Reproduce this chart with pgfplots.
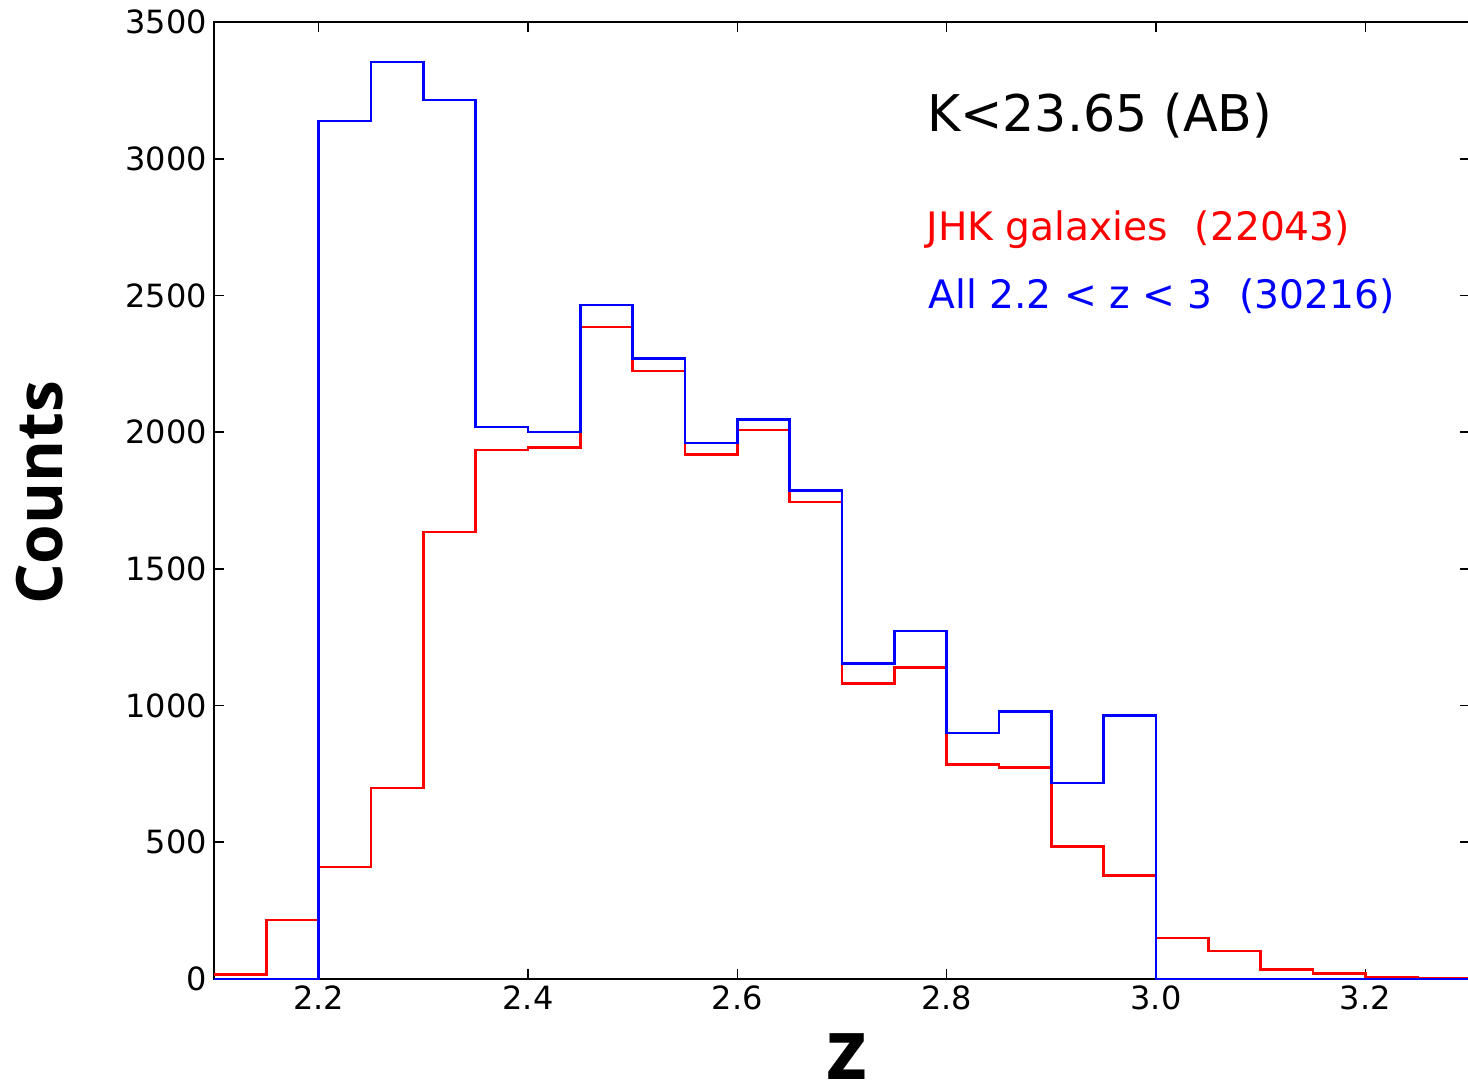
\documentclass[border=0pt]{standalone}
\usepackage{fontspec}
\setmainfont{DejaVu Sans}
\newfontfamily\labelfont{Open Sans}
\usepackage{pgfplots}
\pgfplotsset{compat=1.18}
\begin{document}
\begin{tikzpicture}
\useasboundingbox (-107pt,-53.5pt) rectangle (627pt,489.5pt);
\begin{axis}[
  at={(0,0)}, anchor=south west,
  scale only axis,
  width=628pt, height=478.5pt,
  xmin=2.1, xmax=3.3, ymin=0, ymax=3500,
  xtick={2.2,2.4,2.6,2.8,3.0,3.2},
  xticklabels={2.2,2.4,2.6,2.8,3.0,3.2},
  ytick={0,500,1000,1500,2000,2500,3000,3500},
  scaled ticks=false,
  /pgf/number format/assume math mode=true,
  /pgf/number format/1000 sep={},
  tick label style={font=\fontsize{16}{19}\selectfont},
  tick align=inside, major tick length=5pt,
  xtick pos=both, ytick pos=both,
  axis line style={line width=1pt},
  every tick/.style={black, line width=0.8pt},
  xlabel={\labelfont\bfseries\fontsize{42}{48}\selectfont z},
  ylabel={\labelfont\bfseries\fontsize{32}{38}\selectfont Counts},
  every axis x label/.style={at={(axis description cs:0.504,-0.1055)}, anchor=base, inner sep=0pt},
  every axis y label/.style={at={(axis description cs:-0.1385,0.508)}, rotate=90, anchor=center},
  clip=false,
]
\addplot[const plot mark left, red, line width=1.25pt] coordinates {
(2.10,17) (2.15,216) (2.20,410) (2.25,699) (2.30,1635) (2.35,1934)
(2.40,1943) (2.45,2385) (2.50,2223) (2.55,1918) (2.60,2008) (2.65,1745)
(2.70,1080) (2.75,1139) (2.80,784) (2.85,773) (2.90,485) (2.95,378)
(3.00,150) (3.05,102) (3.10,35) (3.15,21) (3.20,8) (3.25,2) (3.30,2)
};
\addplot[const plot mark left, blue, line width=1.25pt] coordinates {
(2.10,0) (2.15,0) (2.20,3138) (2.25,3353) (2.30,3215) (2.35,2019)
(2.40,2001) (2.45,2465) (2.50,2269) (2.55,1960) (2.60,2047) (2.65,1787)
(2.70,1153) (2.75,1273) (2.80,900) (2.85,978) (2.90,716) (2.95,964)
(3.00,0) (3.05,0) (3.10,0) (3.15,0) (3.20,0) (3.25,0) (3.30,0)
};
\node[anchor=base west, inner sep=0pt, font=\fontsize{25.3}{30}\selectfont] at (axis description cs:0.5675,0.886) {K<23.65 (AB)};
\node[anchor=base west, inner sep=0pt, text=red, font=\fontsize{19.6}{23}\selectfont] at (axis description cs:0.567,0.772) {JHK galaxies\hspace{0.68em}(22043)};
\node[anchor=base west, inner sep=0pt, text=blue, font=\fontsize{19.6}{23}\selectfont] at (axis description cs:0.5685,0.701) {All 2.2 < z < 3\hspace{0.68em}(30216)};
\end{axis}
\end{tikzpicture}
\end{document}
